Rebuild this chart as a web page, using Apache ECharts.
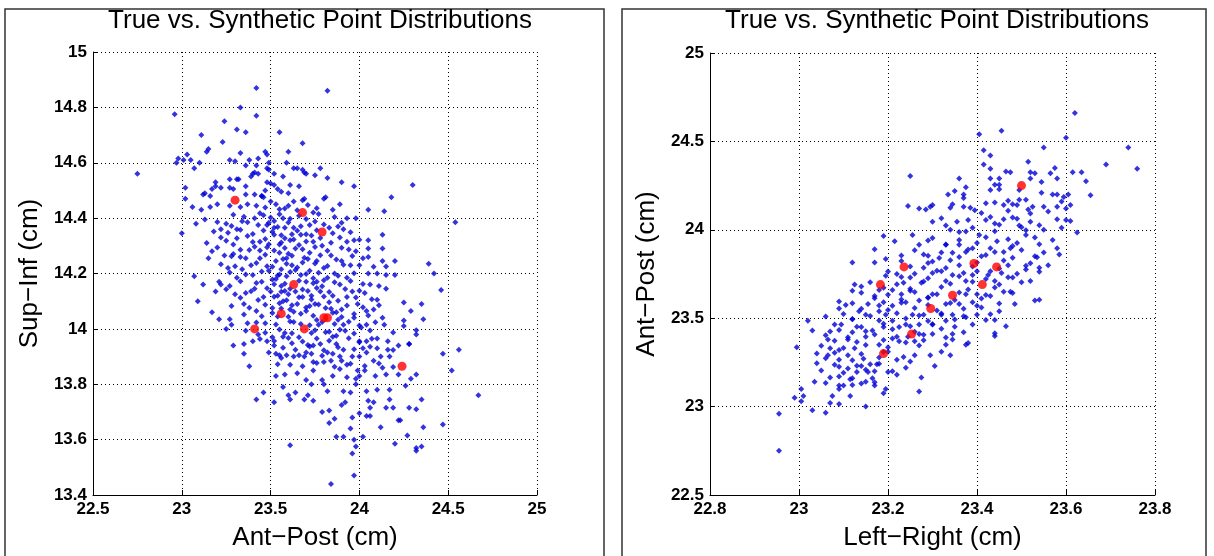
<!DOCTYPE html>
<html>
<head>
<meta charset="utf-8">
<title>True vs. Synthetic Point Distributions</title>
<script src="https://cdn.jsdelivr.net/npm/echarts@6/dist/echarts.min.js"></script>
<style>
  html, body { margin: 0; padding: 0; background: #fff; }
  #chart { width: 1214px; height: 556px; }
</style>
</head>
<body>
<div id="chart"></div>
<script>
// ---- data ----
const titleText = "True vs. Synthetic Point Distributions";

// left panel: Ant-Post (x) vs Sup-Inf (y)
const leftTicksX = [22.5, 23, 23.5, 24, 24.5, 25];
const leftTicksY = [13.4, 13.6, 13.8, 14, 14.2, 14.4, 14.6, 14.8, 15];
const leftTrue = [
  [23.30,14.465],[23.68,14.42],[23.79,14.35],[23.63,14.16],[23.56,14.055],
  [23.80,14.04],[23.82,14.04],[23.41,14.0],[23.69,14.0],[24.24,13.865]
];
const leftSynth = [
  [23.42,14.87],[23.82,14.86],[22.96,14.775],[23.33,14.80],[23.42,14.77],[23.24,14.75],[23.31,14.72],[23.36,14.71],
  [23.11,14.70],[23.55,14.71],[23.23,14.675],[23.68,14.67],[23.15,14.65],[23.14,14.64],[23.60,14.64],[23.47,14.64],
  [23.48,14.63],[23.03,14.63],[22.98,14.615],[23.01,14.61],[23.05,14.61],[22.97,14.60],[23.10,14.60],[23.27,14.61],
  [23.30,14.605],[23.33,14.635],[23.38,14.61],[23.43,14.615],[23.49,14.60],[23.59,14.60],[23.42,14.59],[23.36,14.59],
  [23.07,14.58],[22.75,14.56],[23.48,14.58],[23.49,14.575],[23.52,14.56],[23.40,14.56],[23.41,14.565],[23.43,14.56],
  [23.39,14.55],[23.63,14.58],[23.65,14.58],[23.68,14.575],[23.69,14.565],[23.70,14.56],[23.78,14.58],[23.75,14.555],
  [23.57,14.55],[23.82,14.545],[23.31,14.54],[23.32,14.54],[23.27,14.54],[23.90,14.53],[23.97,14.515],[24.30,14.52],
  [23.19,14.53],[23.19,14.515],[23.22,14.51],[23.17,14.505],[23.02,14.51],[23.27,14.51],[23.29,14.505],[23.36,14.515],
  [23.48,14.53],[23.50,14.525],[23.52,14.52],[23.54,14.505],[23.56,14.495],[23.61,14.52],[23.66,14.515],[23.60,14.49],
  [23.47,14.50],[23.13,14.49],[23.12,14.485],[23.16,14.48],[23.36,14.485],[23.41,14.485],[23.45,14.48],[23.46,14.475],
  [24.18,14.475],[23.81,14.475],[23.69,14.47],[23.02,14.47],
  [23.06,14.44],[23.11,14.43],[23.16,14.44],[23.20,14.45],[23.27,14.445],[23.33,14.44],[23.37,14.45],[23.42,14.445],
  [23.45,14.48],[23.50,14.46],[23.53,14.45],[23.58,14.435],[23.63,14.46],[23.68,14.465],[23.80,14.47],[23.89,14.45],
  [24.05,14.43],[24.14,14.425],[24.54,14.385],[23.98,14.40],[23.93,14.40],[23.85,14.43],[23.74,14.42],[23.08,14.38],
  [23.13,14.395],[23.00,14.345],[23.14,14.31],[23.22,14.36],[23.25,14.38],[23.31,14.36],[23.37,14.385],[23.41,14.40],
  [23.46,14.41],[23.52,14.39],[23.57,14.40],[23.63,14.365],[23.72,14.375],[23.83,14.365],[23.88,14.37],[23.91,14.36],
  [23.89,14.33],[23.93,14.315],[23.97,14.32],[24.05,14.32],[24.13,14.34],[24.05,14.29],[24.13,14.29],[23.98,14.28],
  [24.05,14.26],[24.13,14.245],[24.15,14.225],[24.20,14.245],[24.39,14.235],[24.42,14.20],[24.46,14.14],[24.05,14.20],
  [24.10,14.20],[24.15,14.195],[24.20,14.195],[24.06,14.16],[24.11,14.155],[24.15,14.145],[24.03,14.13],[24.10,14.105],
  [24.25,14.095],[24.35,14.09],[24.11,14.085],[24.04,14.065],[24.08,14.07],[24.29,14.065],[24.13,14.04],[24.25,14.03],
  [24.36,14.035],[24.04,14.015],[24.14,14.015],[24.25,14.01],[24.32,13.995],[24.32,13.98],[24.10,13.965],[24.04,13.955],
  [24.16,13.955],[24.28,13.945],
  [23.07,14.19],[23.09,14.10],[23.12,14.16],[23.15,14.255],[23.17,14.28],[23.17,14.06],[23.19,14.135],[23.21,14.17],
  [23.21,14.035],[23.22,14.16],[23.22,14.33],[23.24,14.265],[23.25,14.00],[23.26,14.22],[23.27,14.155],[23.27,14.035],
  [23.28,14.015],[23.29,14.27],[23.29,14.305],[23.30,14.125],[23.31,14.185],[23.33,14.26],[23.34,14.215],[23.35,14.09],
  [23.36,14.13],[23.37,14.02],[23.37,14.335],[23.38,14.285],[23.39,14.23],[23.40,14.195],[23.41,14.145],[23.42,14.065],
  [23.43,13.98],[23.44,14.315],[23.44,14.255],[23.45,14.17],[23.46,14.115],[23.47,14.02],[23.48,14.375],[23.48,14.295],
  [23.49,14.21],[23.50,14.135],[23.51,14.075],[23.51,13.97],[23.52,14.34],[23.53,14.245],[23.53,14.18],[23.54,14.12],
  [23.54,14.045],[23.55,14.305],[23.55,14.275],[23.56,14.215],[23.56,14.155],[23.57,14.10],[23.58,13.985],[23.58,14.365],
  [23.59,14.255],[23.59,14.19],[23.60,14.125],[23.61,14.07],[23.61,14.32],[23.62,14.23],[23.63,14.025],[23.64,14.29],
  [23.64,14.135],[23.65,14.09],[23.66,13.97],[23.67,14.195],[23.67,14.34],[23.68,14.24],[23.68,14.115],[23.70,14.17],
  [23.70,14.065],[23.72,14.275],[23.72,14.21],[23.73,13.985],[23.73,14.12],[23.74,14.315],[23.75,14.09],[23.76,14.17],
  [23.76,14.245],[23.77,14.015],[23.78,14.135],[23.79,14.30],[23.80,14.22],[23.81,14.075],[23.82,14.185],[23.83,13.99],
  [23.84,14.265],[23.85,14.12],[23.86,14.20],[23.87,14.06],[23.87,13.975],[23.89,14.16],[23.90,14.245],[23.90,14.07],
  [23.91,14.015],[23.93,14.185],[23.93,14.115],[23.95,14.23],[23.96,14.135],[23.97,14.04],[23.99,14.09],[24.00,13.955],
  [24.00,14.23],[24.01,14.005],
  [23.29,13.94],[23.35,13.945],[23.35,13.91],[23.40,13.955],[23.38,13.865],[23.48,13.955],[23.49,13.915],[23.52,13.94],
  [23.53,13.91],[23.55,13.905],[23.56,13.895],[23.59,13.905],[23.61,13.87],[23.63,13.90],[23.66,13.905],[23.69,13.90],
  [23.70,13.915],[23.74,13.88],[23.73,13.91],[23.74,13.94],[23.78,13.945],[23.80,13.88],[23.82,13.915],[23.84,13.885],
  [23.85,13.91],[23.87,13.945],[23.89,13.90],[23.90,13.885],[23.91,13.925],[23.93,13.87],[23.96,13.90],[23.99,13.85],
  [24.00,13.90],[24.02,13.93],[24.04,13.915],[24.08,13.885],[24.10,13.93],[24.12,13.90],[24.13,13.86],[24.16,13.925],
  [24.17,13.90],[24.22,13.94],[24.28,13.945],[24.47,13.91],[24.56,13.925],[24.52,13.85],[24.67,13.76],[23.53,13.83],
  [23.58,13.835],[23.65,13.84],[23.70,13.815],[23.74,13.85],[23.79,13.815],[23.85,13.83],[23.89,13.855],[23.93,13.825],
  [23.98,13.82],[24.00,13.83],[24.03,13.85],[24.09,13.83],[24.15,13.835],[24.22,13.835],[24.29,13.82],[24.32,13.835],
  [24.26,13.795],[23.46,13.77],[23.42,13.745],[23.52,13.735],[23.57,13.79],[23.60,13.76],[23.61,13.745],[23.64,13.77],
  [23.69,13.745],[23.71,13.76],[23.74,13.74],[23.73,13.80],[23.80,13.80],[23.82,13.775],[23.91,13.775],[23.90,13.725],
  [23.92,13.735],[23.95,13.77],[23.98,13.80],[24.04,13.775],[24.05,13.74],[24.08,13.735],[24.06,13.715],[24.10,13.78],
  [24.17,13.78],[24.17,13.745],[24.15,13.715],[24.19,13.715],[24.28,13.715],[24.32,13.71],[24.35,13.745],[23.79,13.70],
  [23.83,13.705],[23.86,13.675],[23.83,13.66],[23.96,13.68],[23.95,13.64],[24.00,13.695],[24.02,13.61],[24.04,13.685],
  [24.06,13.685],[24.22,13.67],[24.23,13.67],[24.12,13.645],[24.36,13.645],[24.47,13.655],[23.87,13.61],[23.91,13.61],
  [23.97,13.60],[24.27,13.615],[24.20,13.585],[23.61,13.58],[23.98,13.575],[24.32,13.57],[24.32,13.56],[24.35,13.575],
  [23.96,13.55],[23.97,13.47],[23.84,13.44],
  // dense core
  [23.47,14.438],[23.55,14.432],[23.60,14.445],[23.65,14.428],[23.71,14.447],[23.76,14.436],
  [23.29,14.412],[23.35,14.405],[23.44,14.418],[23.50,14.402],[23.55,14.414],[23.61,14.398],[23.66,14.409],[23.70,14.397],[23.77,14.415],[23.86,14.404],
  [23.20,14.386],[23.28,14.372],[23.34,14.389],[23.43,14.375],[23.49,14.383],[23.54,14.368],[23.60,14.384],[23.67,14.371],[23.75,14.388],[23.80,14.377],[23.90,14.383],
  [23.18,14.352],[23.26,14.347],[23.33,14.358],[23.40,14.343],[23.46,14.355],[23.51,14.351],[23.56,14.338],[23.65,14.354],[23.70,14.342],[23.76,14.356],[23.85,14.345],[23.95,14.349],
  [23.25,14.318],[23.31,14.327],[23.40,14.314],[23.47,14.325],[23.56,14.312],[23.63,14.323],[23.70,14.316],[23.78,14.328],[23.84,14.311],[24.00,14.322],
  [23.20,14.294],[23.33,14.286],[23.41,14.297],[23.52,14.283],[23.58,14.292],[23.68,14.288],[23.75,14.296],[23.82,14.282],[23.90,14.293],[23.94,14.287],
  [23.28,14.262],[23.36,14.255],[23.47,14.268],[23.57,14.252],[23.62,14.264],[23.69,14.257],[23.78,14.266],[23.87,14.251],[23.96,14.263],[24.02,14.255],
  [23.22,14.233],[23.30,14.226],[23.42,14.238],[23.51,14.224],[23.59,14.235],[23.65,14.222],[23.75,14.236],[23.82,14.227],[23.91,14.232],[24.08,14.224],
  [23.27,14.204],[23.36,14.196],[23.45,14.207],[23.54,14.193],[23.61,14.205],[23.70,14.198],[23.77,14.203],[23.88,14.192],[23.97,14.201],
  [23.33,14.172],[23.42,14.166],[23.51,14.178],[23.58,14.163],[23.66,14.174],[23.74,14.165],[23.80,14.176],[23.86,14.168],[23.95,14.173],[24.02,14.162],
  [23.25,14.143],[23.39,14.136],[23.48,14.147],[23.56,14.134],[23.61,14.145],[23.71,14.137],[23.76,14.148],[23.83,14.133],[23.92,14.144],[24.00,14.138],
  [23.33,14.112],[23.43,14.104],[23.52,14.116],[23.59,14.103],[23.66,14.114],[23.73,14.106],[23.80,14.117],[23.88,14.102],[23.98,14.113],[24.07,14.107],
  [23.28,14.083],[23.38,14.076],[23.47,14.087],[23.56,14.074],[23.62,14.085],[23.70,14.077],[23.77,14.088],[23.84,14.073],[23.93,14.084],[24.02,14.078],
  [23.35,14.052],[23.45,14.046],[23.51,14.057],[23.60,14.044],[23.67,14.055],[23.74,14.047],[23.85,14.058],[23.90,14.043],[23.97,14.054],[24.05,14.048],
  [23.42,14.023],[23.53,14.016],[23.61,14.027],[23.72,14.013],[23.79,14.025],[23.86,14.018],[23.94,14.026],[24.00,14.012],[24.09,14.024],
  [23.36,13.993],[23.47,13.986],[23.55,13.998],[23.62,13.984],[23.75,13.995],[23.81,13.988],[23.89,13.997],[23.97,13.983],[24.06,13.994],[24.19,13.987],
  [23.44,13.963],[23.52,13.956],[23.60,13.967],[23.68,13.954],[23.76,13.965],[23.83,13.957],[23.94,13.966],[24.00,13.952],[24.07,13.964],
  [23.57,13.932],[23.64,13.925],[23.72,13.936],[23.80,13.923],[23.88,13.934],[23.97,13.926],[24.06,13.935],[24.19,13.924],
  [23.54,13.872],[23.68,13.865],[23.76,13.877],[23.86,13.863],[23.95,13.874],[24.03,13.866],[24.11,13.875],[24.19,13.862],
  [23.52,14.365],[23.58,14.327],[23.62,14.342],[23.66,14.303],[23.73,14.337],[23.49,14.306],[23.44,14.283],[23.60,14.271],
  [23.71,14.252],[23.64,14.213],[23.55,14.196],[23.48,14.226],[23.74,14.183],[23.68,14.142],[23.58,14.137],[23.52,14.161],
  [23.79,14.154],[23.83,14.096],[23.72,14.083],[23.63,14.062],[23.55,14.093],[23.76,14.032],[23.67,14.018],[23.88,14.033],
  [23.92,13.993],[23.85,13.972],[23.71,13.942],[23.79,13.903],[23.62,13.948],[23.57,13.972]
];

// right panel: Left-Right (x) vs Ant-Post (y)
const rightTicksX = [22.8, 23, 23.2, 23.4, 23.6, 23.8];
const rightTicksY = [22.5, 23, 23.5, 24, 24.5, 25];
const rightTrue = [
  [23.50,24.25],[23.236,23.79],[23.183,23.69],[23.393,23.81],[23.444,23.79],
  [23.412,23.69],[23.345,23.63],[23.296,23.555],[23.253,23.41],[23.19,23.30]
];
const rightSynth = [
  [23.62,24.66],[23.455,24.56],[23.405,24.54],[23.60,24.52],[23.55,24.465],[23.74,24.465],[23.43,24.42],[23.415,24.45],
  [23.515,24.385],[23.69,24.37],[23.76,24.345],[23.415,24.37],[23.43,24.345],[23.465,24.33],[23.475,24.325],[23.52,24.325],
  [23.53,24.32],[23.575,24.35],[23.565,24.32],[23.615,24.325],[23.635,24.325],[23.25,24.305],[23.58,24.29],[23.645,24.275],
  [23.52,24.29],[23.43,24.29],[23.45,24.29],[23.44,24.255],[23.45,24.255],[23.36,24.29],[23.545,24.27],[23.495,24.225],
  [23.375,24.24],[23.35,24.22],[23.335,24.20],[23.37,24.20],[23.37,24.18],[23.43,24.225],[23.45,24.23],[23.545,24.21],
  [23.57,24.20],[23.58,24.20],[23.595,24.185],[23.605,24.20],[23.655,24.195],[23.59,24.16],[23.60,24.12],[23.245,24.135],
  [23.27,24.12],[23.285,24.115],[23.30,24.14],[23.295,24.13],[23.345,24.145],[23.34,24.125],[23.37,24.13],[23.385,24.125],
  [23.395,24.11],[23.42,24.15],[23.44,24.155],[23.46,24.14],[23.47,24.165],[23.48,24.145],[23.49,24.14],[23.495,24.17],
  [23.51,24.17],[23.525,24.13],[23.515,24.115],[23.55,24.13],[23.58,24.13],[23.61,24.14],
  [23.625,23.985],[23.61,24.05],[23.60,24.055],[23.58,24.06],[23.55,24.00],[23.585,23.86],[23.58,23.895],[23.56,23.80],
  [23.54,23.785],[23.535,23.845],[23.52,23.71],[23.51,23.775],[23.485,23.58],[23.53,23.60],[23.54,23.605],[23.465,23.455],
  [23.44,23.415],[23.44,23.49],[23.42,23.49],[23.45,23.54],[23.46,23.65],[23.475,23.65],[23.12,23.815],[23.17,23.89],
  [23.17,23.815],[23.19,23.965],[23.195,23.835],[23.215,23.935],[23.23,23.855],[23.22,23.75],[23.195,23.74],[23.18,23.66],
  [23.125,23.69],[23.14,23.68],[23.12,23.655],[23.09,23.595],[23.105,23.575],[23.09,23.555],[23.02,23.485],[23.06,23.51],
  [23.03,23.43],[23.07,23.425],[23.095,23.465],[23.12,23.495],[23.135,23.54],[23.155,23.58],[23.15,23.52],[23.17,23.625],
  [23.19,23.59],[23.18,23.54],[23.195,23.52],[23.21,23.57],[23.21,23.66],[23.23,23.635],[23.24,23.59],[23.235,23.70],
  [23.25,23.73],[23.25,23.655],[23.255,23.52],[23.27,23.60],[23.275,23.70],[23.28,23.785],[23.28,23.86],[23.255,23.97],
  [23.27,23.915],[23.29,23.94],[23.30,24.045],[23.32,24.065],[23.34,24.00],[23.355,24.045],[23.375,23.99],[23.38,24.055],
  [23.405,23.97],[23.42,24.055],[23.44,24.035],[23.46,24.06],[23.48,24.07],[23.495,24.025],[23.51,23.97],[23.52,24.045],
  [23.49,23.925],[23.475,23.895],[23.46,23.875],[23.445,23.935],[23.43,23.895],[23.41,23.85],[23.39,23.895],[23.375,23.875],
  [23.36,23.915],[23.345,23.87],[23.33,23.915],[23.315,23.84],[23.30,23.82],[23.30,23.755],[23.32,23.765],[23.33,23.71],
  [23.345,23.745],[23.36,23.80],[23.375,23.71],[23.39,23.745],[23.40,23.765],[23.425,23.745],[23.44,23.71],[23.455,23.755],
  [23.47,23.80],[23.48,23.73],[23.43,23.625],[23.40,23.635],[23.39,23.59],[23.375,23.635],[23.36,23.58],[23.33,23.58],
  [23.32,23.52],[23.30,23.635],[23.29,23.615],[23.28,23.52],[23.27,23.465],[23.30,23.465],[23.33,23.485],[23.345,23.52],
  [23.375,23.505],[23.40,23.52],[23.41,23.56],[23.39,23.465],[23.37,23.42],[23.345,23.41],[23.32,23.44],[23.24,23.465],
  [23.225,23.45],[23.21,23.485],[23.19,23.45],[23.165,23.43],[23.14,23.45],[23.12,23.42],[23.27,23.41],[23.30,23.41],
  [22.955,22.96],[22.955,22.75],[22.99,23.05],[23.005,23.10],[23.01,23.06],[23.005,23.03],[23.03,22.98],[23.06,22.965],
  [22.995,23.335],[23.04,23.30],[23.04,23.245],[23.035,23.14],[23.065,23.38],[23.065,23.29],[23.07,23.33],[23.075,23.06],
  [23.07,23.02],[23.07,23.165],[23.09,23.015],[23.09,23.32],[23.09,23.265],[23.09,23.225],[23.09,23.17],[23.09,23.12],
  [23.09,23.10],[23.10,23.12],[23.11,23.38],[23.11,23.29],[23.11,23.215],[23.115,23.06],[23.115,23.155],[23.12,23.16],
  [23.125,23.33],[23.13,23.195],[23.14,23.23],[23.14,23.13],[23.145,23.27],[23.15,23.14],[23.15,23.00],[23.15,23.395],
  [23.155,23.195],[23.16,23.24],[23.165,23.16],[23.17,23.20],[23.17,23.12],[23.175,23.24],[23.18,23.35],[23.195,23.10],
  [23.19,23.075],[23.21,23.20],[23.22,23.18],[23.20,23.31],[23.225,23.37],[23.235,23.28],[23.24,23.22],[23.25,23.255],
  [23.26,23.29],[23.275,23.165],[23.27,23.085],[23.28,23.375],[23.295,23.29],[23.305,23.23],[23.32,23.31],[23.33,23.35],
  [23.34,23.29],[23.345,23.38],[23.375,23.35],[23.38,23.36],[23.44,23.40],[23.245,23.395],[23.21,23.385],[23.26,23.37],
  // dense core
  [23.41,24.095],[23.47,24.108],[23.52,24.092],[23.56,24.104],
  [23.33,24.024],[23.39,24.012],[23.45,24.028],[23.50,24.015],[23.54,24.026],[23.59,24.011],
  [23.30,23.954],[23.36,23.942],[23.42,23.958],[23.47,23.946],[23.53,23.957],[23.57,23.943],
  [23.26,23.884],[23.32,23.872],[23.38,23.888],[23.44,23.874],[23.50,23.886],[23.55,23.871],
  [23.23,23.824],[23.29,23.812],[23.34,23.828],[23.40,23.815],[23.46,23.826],[23.52,23.811],
  [23.20,23.764],[23.26,23.752],[23.31,23.768],[23.37,23.755],[23.43,23.766],[23.49,23.751],[23.54,23.763],
  [23.16,23.704],[23.22,23.692],[23.28,23.708],[23.34,23.695],[23.39,23.706],[23.45,23.691],[23.50,23.703],
  [23.14,23.644],[23.20,23.632],[23.26,23.648],[23.31,23.635],[23.36,23.646],[23.42,23.631],[23.48,23.643],
  [23.12,23.584],[23.18,23.572],[23.23,23.588],[23.29,23.575],[23.34,23.586],[23.40,23.571],[23.45,23.583],
  [23.10,23.524],[23.16,23.512],[23.22,23.528],[23.27,23.515],[23.32,23.526],[23.37,23.511],[23.43,23.523],
  [23.08,23.464],[23.13,23.452],[23.19,23.468],[23.25,23.455],[23.30,23.466],[23.35,23.451],
  [23.06,23.404],[23.11,23.392],[23.17,23.408],[23.22,23.395],[23.28,23.406],[23.33,23.391],
  [23.05,23.344],[23.10,23.332],[23.15,23.348],[23.20,23.335],[23.27,23.346],
  [23.06,23.274],[23.12,23.262],[23.18,23.278],[23.22,23.265],
  [23.05,23.204],[23.10,23.192],[23.15,23.208],[23.20,23.195],
  [23.06,23.134],[23.12,23.122],[23.17,23.138],
  [23.43,24.072],[23.49,24.062],[23.36,23.987],[23.44,23.992],[23.51,23.998],[23.33,23.917],[23.40,23.926],[23.48,23.908],
  [23.54,23.918],[23.29,23.853],[23.36,23.846],[23.42,23.858],[23.48,23.842],[23.53,23.851],[23.25,23.792],[23.33,23.784],
  [23.39,23.793],[23.45,23.781],[23.51,23.796],[23.23,23.733],[23.29,23.726],[23.36,23.737],[23.42,23.722],[23.47,23.731],
  [23.19,23.672],[23.25,23.666],[23.32,23.676],[23.38,23.662],[23.44,23.674],[23.17,23.613],[23.23,23.606],[23.29,23.617],
  [23.35,23.603],[23.41,23.612],[23.14,23.554],[23.20,23.547],[23.26,23.558],[23.31,23.544],[23.37,23.553],[23.12,23.494],
  [23.18,23.487],[23.24,23.498],[23.29,23.484],[23.35,23.493],[23.09,23.433],[23.15,23.426],[23.21,23.437],[23.26,23.423],
  [23.08,23.372],[23.13,23.366],[23.19,23.376],[23.24,23.362],[23.08,23.305],[23.14,23.298],[23.19,23.309],[23.08,23.237],
  [23.13,23.231],[23.18,23.243]
];

// ---- chart ----
const chart = echarts.init(document.getElementById("chart"));

const fontFamily = "'Liberation Sans', Arial, Helvetica, sans-serif";
const fmt = v => String(Math.round(v * 10) / 10);

function valueAxis(ticks, name, nameGap, gridIndex) {
  return {
    type: "value",
    gridIndex: gridIndex,
    min: ticks[0],
    max: ticks[ticks.length - 1],
    interval: +(ticks[1] - ticks[0]).toFixed(2),
    name: name,
    nameLocation: "middle",
    nameGap: nameGap,
    nameTextStyle: { color: "#000", fontSize: 26, fontFamily },
    axisLine: { show: true, onZero: false, lineStyle: { color: "#000", width: 1 } },
    axisTick: { show: true, inside: true, length: 5, lineStyle: { color: "#000" } },
    axisLabel: { color: "#000", fontSize: 17, fontWeight: "bold", fontFamily, margin: 6, formatter: fmt },
    splitLine: { show: true, lineStyle: { color: "#000", type: [1, 3], width: 1 } }
  };
}

chart.setOption({
  animation: false,
  backgroundColor: "#fff",
  title: [
    { text: titleText, left: 315, top: 3, textAlign: "center",
      textStyle: { color: "#000", fontSize: 26, fontWeight: "normal", fontFamily } },
    { text: titleText, left: 932, top: 3, textAlign: "center",
      textStyle: { color: "#000", fontSize: 26, fontWeight: "normal", fontFamily } }
  ],
  graphic: [
    { type: "rect", shape: { x: 5, y: 9, width: 599, height: 560 },
      style: { fill: null, stroke: "#333", lineWidth: 1.5 }, silent: true },
    { type: "rect", shape: { x: 622, y: 9, width: 584, height: 560 },
      style: { fill: null, stroke: "#333", lineWidth: 1.5 }, silent: true }
  ],
  grid: [
    { left: 93, top: 52, width: 444, height: 444 },
    { left: 710, top: 53, width: 445, height: 443 }
  ],
  xAxis: [
    valueAxis(leftTicksX, "Ant\u2212Post (cm)", 30, 0),
    valueAxis(rightTicksX, "Left\u2212Right (cm)", 30, 1)
  ],
  yAxis: [
    valueAxis(leftTicksY, "Sup\u2212Inf (cm)", 50, 0),
    valueAxis(rightTicksY, "Ant\u2212Post (cm)", 50, 1)
  ],
  series: [
    { type: "scatter", xAxisIndex: 0, yAxisIndex: 0, data: leftSynth,
      symbol: "diamond", symbolSize: 6, itemStyle: { color: "#0000d8" } },
    { type: "scatter", xAxisIndex: 0, yAxisIndex: 0, data: leftTrue, z: 3,
      symbol: "circle", symbolSize: 9, itemStyle: { color: "#ff0000" } },
    { type: "scatter", xAxisIndex: 1, yAxisIndex: 1, data: rightSynth,
      symbol: "diamond", symbolSize: 6, itemStyle: { color: "#0000d8" } },
    { type: "scatter", xAxisIndex: 1, yAxisIndex: 1, data: rightTrue, z: 3,
      symbol: "circle", symbolSize: 9, itemStyle: { color: "#ff0000" } }
  ]
});
</script>
</body>
</html>
